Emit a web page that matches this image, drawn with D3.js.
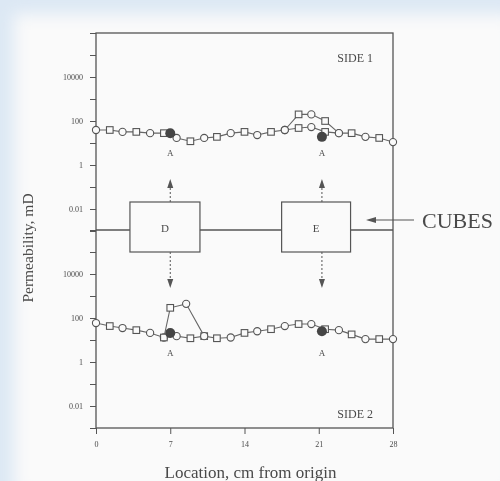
<!DOCTYPE html>
<html>
<head>
<meta charset="utf-8">
<script src="https://cdn.jsdelivr.net/npm/d3@7"></script>
<style>
  body { margin: 0; background: #fff; }
  svg { display: block; }
  text { font-family: "Liberation Serif", "DejaVu Serif", serif; fill: #4a4a4a; }
</style>
</head>
<body>
<div id="chart"></div>
<script>
// location along the core, cm
const locations = [0, 1.3, 2.5, 3.8, 5.1, 6.4, 7.6, 8.9, 10.2, 11.4, 12.7, 14, 15.2, 16.5, 17.8, 19.1, 20.3, 21.6, 22.9, 24.1, 25.4, 26.7, 28];
// permeability, mD
const side1 = [39, 39, 32, 32, 28, 28, 17, 12, 17, 19, 28, 32, 23, 32, 39, 48, 53, 32, 28, 28, 19, 17, 11];
const side2 = [59, 43, 35, 28, 21, 13, 15, 12, 15, 12, 13, 21, 25, 31, 43, 53, 53, 31, 28, 18, 11, 11, 11];

// second trace where it leaves the main one
const side1PeakX = [17.8, 19.1, 20.3, 21.6, 22.9];
const side1Peak = [39, 200, 200, 100, 28];
const side2PeakX = [6.4, 7.0, 8.5, 10.2];
const side2Peak = [13, 290, 440, 15];

// cube measurements (filled, "A")
const cubeX = [7.0, 21.3];
const side1A = [28, 19];
const side2A = [21, 25];

const cubes = [
  { name: 'D', from: 3.2, to: 9.8 },
  { name: 'E', from: 17.5, to: 24 }
];

const xTicks = [0, 7, 14, 21, 28];
const yDecades = [0.001, 0.01, 0.1, 1, 10, 100, 1000, 10000, 100000, 1000000];
const yLabelled = [10000, 100, 1, 0.01];

const width = 500, height = 481;
const padL = 96, padR = 393, padT = 33, mid = 230, padB = 428;

const svg = d3.select('#chart').append('svg')
  .attr('width', width)
  .attr('height', height);

const defs = svg.append('defs');
defs.append('filter').attr('id', 'soft')
  .attr('x', '-20%').attr('y', '-20%').attr('width', '140%').attr('height', '140%')
  .append('feGaussianBlur').attr('stdDeviation', 8);
defs.append('filter').attr('id', 'scan')
  .append('feGaussianBlur').attr('stdDeviation', 0.55);

// scanned page look
svg.append('rect').attr('width', width).attr('height', height).attr('fill', '#dce8f4');
svg.append('rect')
  .attr('x', 14).attr('y', 14).attr('width', width).attr('height', height)
  .attr('fill', '#fafafa').attr('filter', 'url(#soft)');

const g = svg.append('g').attr('filter', 'url(#scan)');
const ink = '#555';

const x = d3.scaleLinear().domain([0, 28]).range([padL, padR]);
const yTop = d3.scaleLog().domain([0.001, 1e6]).range([mid + 1, padT]);
const yBot = d3.scaleLog().domain([0.001, 1e6]).range([padB, mid]);

// frame
g.append('rect')
  .attr('x', padL).attr('y', padT)
  .attr('width', padR - padL).attr('height', padB - padT)
  .attr('fill', 'none').attr('stroke', ink).attr('stroke-width', 1.3);

function yAxis(scale) {
  const ax = g.append('g')
    .attr('transform', `translate(${padL},0)`)
    .call(d3.axisLeft(scale)
      .tickValues(yDecades)
      .tickSize(6)
      .tickSizeOuter(0)
      .tickFormat(d => yLabelled.includes(d) ? String(d) : ''));
  ax.select('.domain').remove();
  ax.selectAll('line').attr('stroke', ink);
  ax.selectAll('text')
    .attr('font-family', '"Liberation Serif", serif')
    .attr('font-size', 8)
    .attr('x', -13)
    .attr('fill', '#555');
}
yAxis(yTop);
yAxis(yBot);

const xa = g.append('g')
  .attr('transform', `translate(0,${padB})`)
  .call(d3.axisBottom(x).tickValues(xTicks).tickSize(6).tickSizeOuter(0));
xa.select('.domain').remove();
xa.selectAll('line').attr('stroke', ink);
xa.selectAll('text')
  .attr('font-family', '"Liberation Serif", serif')
  .attr('font-size', 8)
  .attr('dy', '1.3em')
  .attr('fill', '#555');

// middle line with the cube boxes
g.append('line')
  .attr('x1', padL).attr('x2', padR).attr('y1', mid).attr('y2', mid)
  .attr('stroke', ink).attr('stroke-width', 1.7);

g.selectAll('.cube').data(cubes).enter().append('rect')
  .attr('class', 'cube')
  .attr('x', d => x(d.from)).attr('y', mid - 28)
  .attr('width', d => x(d.to) - x(d.from)).attr('height', 50)
  .attr('fill', '#fafafa').attr('stroke', ink).attr('stroke-width', 1.2);

g.selectAll('.cubeName').data(cubes).enter().append('text')
  .attr('class', 'cubeName')
  .attr('x', d => x((d.from + d.to) / 2)).attr('y', mid + 2)
  .attr('text-anchor', 'middle').attr('font-size', 11)
  .text(d => d.name);

// arrows from the cubes to the "A" points
function arrow(xp, y0, y1) {
  const dir = Math.sign(y1 - y0);
  g.append('line')
    .attr('x1', xp).attr('x2', xp).attr('y1', y0).attr('y2', y1 - dir * 8)
    .attr('stroke', ink).attr('stroke-width', 1).attr('stroke-dasharray', '2,2');
  g.append('path')
    .attr('d', `M${xp},${y1} L${xp - 3},${y1 - dir * 9} L${xp + 3},${y1 - dir * 9} Z`)
    .attr('fill', ink);
}
cubeX.forEach(c => {
  arrow(x(c), mid - 28, 179);
  arrow(x(c), mid + 22, 288);
});

const line = (scale) => d3.line()
  .x(d => x(d[0]))
  .y(d => scale(d[1]));

function series(scale, xs, vals) {
  const pts = xs.map((v, i) => [v, vals[i]]);
  g.append('path').datum(pts)
    .attr('d', line(scale))
    .attr('fill', 'none').attr('stroke', '#666').attr('stroke-width', 1.1);
  const m = g.selectAll(null).data(pts).enter().append('g')
    .attr('transform', d => `translate(${x(d[0])},${scale(d[1])})`);
  m.filter((d, i) => i % 2 === 0).append('circle')
    .attr('r', 3.6).attr('fill', '#fafafa').attr('stroke', '#555').attr('stroke-width', 1.1);
  m.filter((d, i) => i % 2 === 1).append('rect')
    .attr('x', -3.3).attr('y', -3.3).attr('width', 6.6).attr('height', 6.6)
    .attr('fill', '#fafafa').attr('stroke', '#555').attr('stroke-width', 1.1);
}

function panel(scale, vals, peakX, peakVals, aVals, aLabelY, name, nameY) {
  series(scale, peakX, peakVals);
  series(scale, locations, vals);
  g.selectAll(null).data(cubeX).enter().append('circle')
    .attr('cx', d => x(d)).attr('cy', (d, i) => scale(aVals[i]))
    .attr('r', 5).attr('fill', '#444');
  g.selectAll(null).data(cubeX).enter().append('text')
    .attr('x', d => x(d)).attr('y', aLabelY)
    .attr('text-anchor', 'middle').attr('font-size', 9)
    .text('A');
  g.append('text')
    .attr('x', padR - 20).attr('y', nameY)
    .attr('text-anchor', 'end').attr('font-size', 12)
    .text(name);
}
panel(yTop, side1, side1PeakX, side1Peak, side1A, 156, 'SIDE 1', 62);
panel(yBot, side2, side2PeakX, side2Peak, side2A, 356, 'SIDE 2', 418);

// axis titles
g.append('text')
  .attr('transform', `translate(33,248) rotate(-90)`)
  .attr('text-anchor', 'middle').attr('font-size', 15.5)
  .text('Permeability, mD');
g.append('text')
  .attr('x', (padL + padR) / 2 + 6).attr('y', 478)
  .attr('text-anchor', 'middle').attr('font-size', 17)
  .text('Location, cm from origin');

// CUBES callout
g.append('line')
  .attr('x1', 414).attr('x2', 374).attr('y1', 220).attr('y2', 220)
  .attr('stroke', ink).attr('stroke-width', 1.1);
g.append('path')
  .attr('d', 'M366,220 L376,217 L376,223 Z')
  .attr('fill', ink);
g.append('text')
  .attr('x', 422).attr('y', 228)
  .attr('font-size', 22)
  .text('CUBES');
</script>
</body>
</html>
